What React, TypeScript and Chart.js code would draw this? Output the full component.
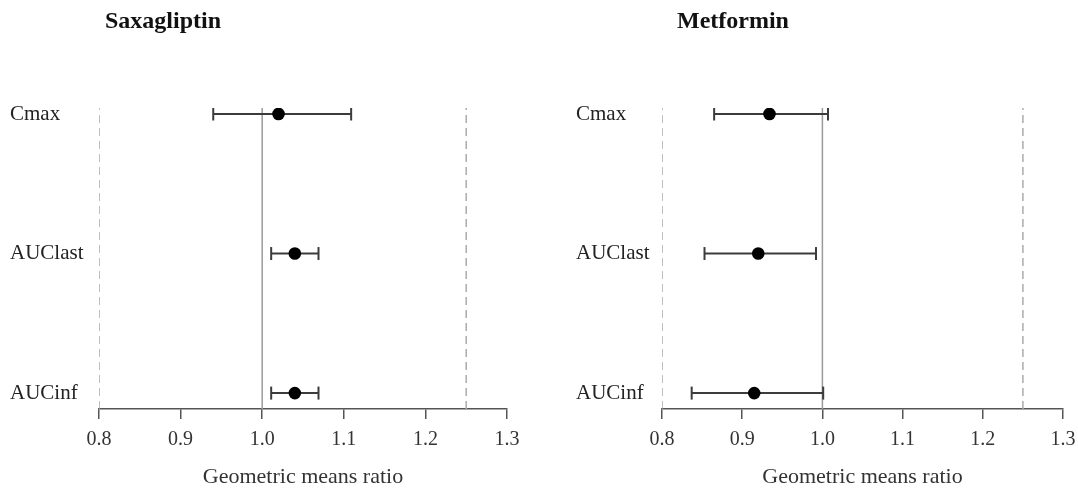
import React, { useEffect, useRef } from "react";
import { Chart, registerables } from "chart.js";

Chart.register(...registerables);

// ---- data ----
const rowLabels = ["Cmax", "AUClast", "AUCinf"];
const xTickValues = [0.8, 0.9, 1.0, 1.1, 1.2, 1.3];
const refSolid = 1.0;
const refDashed = [0.8, 1.25];

const saxaGMR = [1.02, 1.04, 1.04];
const saxaLow = [0.94, 1.011, 1.011];
const saxaHigh = [1.109, 1.069, 1.069];

const metGMR = [0.934, 0.92, 0.915];
const metLow = [0.865, 0.853, 0.837];
const metHigh = [1.007, 0.992, 1.001];

const panelTitles = ["Saxagliptin", "Metformin"];
const axisTitle = "Geometric means ratio";

// ---- styling ----
const FONT = "'Liberation Serif', 'Times New Roman', serif";
const Y_MIN = -0.114;
const Y_MAX = 2.043;

function rowY(i: number) {
  return rowLabels.length - 1 - i;
}

function buildConfig(
  gmr: number[],
  low: number[],
  high: number[],
  pad: { left: number; right: number },
  yWidth: number
): any {
  const datasets: any[] = [];
  datasets.push({
    label: "GMR",
    data: gmr.map((v, i) => ({ x: v, y: rowY(i) })),
    pointRadius: 6.3,
    pointBackgroundColor: "#000",
    pointBorderColor: "#000",
    pointBorderWidth: 0,
    showLine: false,
    order: 0,
  });
  gmr.forEach((_, i) => {
    datasets.push({
      label: "CI " + rowLabels[i],
      data: [
        { x: low[i], y: rowY(i) },
        { x: high[i], y: rowY(i) },
      ],
      showLine: true,
      borderColor: "#3c3c3c",
      borderWidth: 2,
      pointStyle: "line",
      rotation: 90,
      pointRadius: 6.5,
      pointBorderColor: "#3c3c3c",
      pointBorderWidth: 2,
      order: 1,
    });
  });
  datasets.push({
    label: "ref",
    data: [
      { x: refSolid, y: Y_MIN },
      { x: refSolid, y: Y_MAX },
    ],
    showLine: true,
    borderColor: "#9a9a9a",
    borderWidth: 1.5,
    pointRadius: 0,
    order: 2,
  });
  refDashed.forEach((r) => {
    datasets.push({
      label: "bound",
      data: [
        { x: r, y: Y_MIN },
        { x: r, y: Y_MAX },
      ],
      showLine: true,
      borderColor: "#ababab",
      borderWidth: 1.5,
      borderDash: [8, 5],
      pointRadius: 0,
      order: 3,
    });
  });

  return {
    type: "scatter",
    data: { datasets },
    options: {
      animation: false,
      responsive: false,
      events: [],
      layout: { padding: { left: pad.left, right: pad.right, top: 108, bottom: 1.6 } },
      plugins: { legend: { display: false }, tooltip: { enabled: false }, title: { display: false } },
      scales: {
        x: {
          type: "linear",
          min: xTickValues[0],
          max: xTickValues[xTickValues.length - 1],
          afterBuildTicks: (s: any) => {
            s.ticks = xTickValues.map((v) => ({ value: v }));
          },
          afterFit: (s: any) => {
            s.paddingRight = 0;
            s.paddingLeft = 0;
          },
          ticks: {
            callback: (v: any) => Number(v).toFixed(1),
            font: { family: FONT, size: 20 },
            color: "#333",
            padding: 9,
            maxRotation: 0,
          },
          grid: {
            drawOnChartArea: false,
            drawTicks: true,
            tickLength: 10,
            color: "#555",
            lineWidth: 1.5,
          },
          border: { display: true, color: "#555", width: 1.5 },
          title: {
            display: true,
            text: axisTitle,
            font: { family: FONT, size: 22 },
            color: "#333",
            padding: { top: 3, bottom: 0 },
          },
        },
        y: {
          type: "linear",
          min: Y_MIN,
          max: Y_MAX,
          afterBuildTicks: (s: any) => {
            s.ticks = rowLabels.map((_, i) => ({ value: rowY(i) }));
          },
          afterFit: (s: any) => {
            s.width = yWidth;
          },
          ticks: {
            callback: (v: any) => rowLabels[rowLabels.length - 1 - Math.round(Number(v))],
            crossAlign: "far",
            font: { family: FONT, size: 21 },
            color: "#222",
          },
          grid: { display: false },
          border: { display: false },
        },
      },
    },
  };
}

function Panel(props: {
  left: number;
  width: number;
  gmr: number[];
  low: number[];
  high: number[];
  pad: { left: number; right: number };
  yWidth: number;
}) {
  const ref = useRef<HTMLCanvasElement | null>(null);
  useEffect(() => {
    if (!ref.current) return;
    const chart = new Chart(ref.current, buildConfig(props.gmr, props.low, props.high, props.pad, props.yWidth));
    return () => chart.destroy();
  }, []);
  return (
    <canvas
      ref={ref}
      width={props.width}
      height={492}
      style={{ position: "absolute", left: props.left, top: 0, width: props.width, height: 492 }}
    />
  );
}

export default function App() {
  const titleStyle = (left: number): React.CSSProperties => ({
    position: "absolute",
    left,
    top: 8,
    fontFamily: FONT,
    fontWeight: "bold",
    fontSize: 24,
    lineHeight: "24px",
    color: "#111",
    whiteSpace: "nowrap",
  });
  return (
    <div
      style={{
        position: "absolute",
        left: 0,
        top: 0,
        width: 1078,
        height: 492,
        overflow: "hidden",
        background: "#fff",
      }}
    >
      <Panel left={0} width={540} gmr={saxaGMR} low={saxaLow} high={saxaHigh} pad={{ left: 10, right: 33 }} yWidth={89} />
      <Panel left={540} width={538} gmr={metGMR} low={metLow} high={metHigh} pad={{ left: 36, right: 15 }} yWidth={86} />
      <div style={titleStyle(105)}>{panelTitles[0]}</div>
      <div style={titleStyle(677)}>{panelTitles[1]}</div>
    </div>
  );
}
